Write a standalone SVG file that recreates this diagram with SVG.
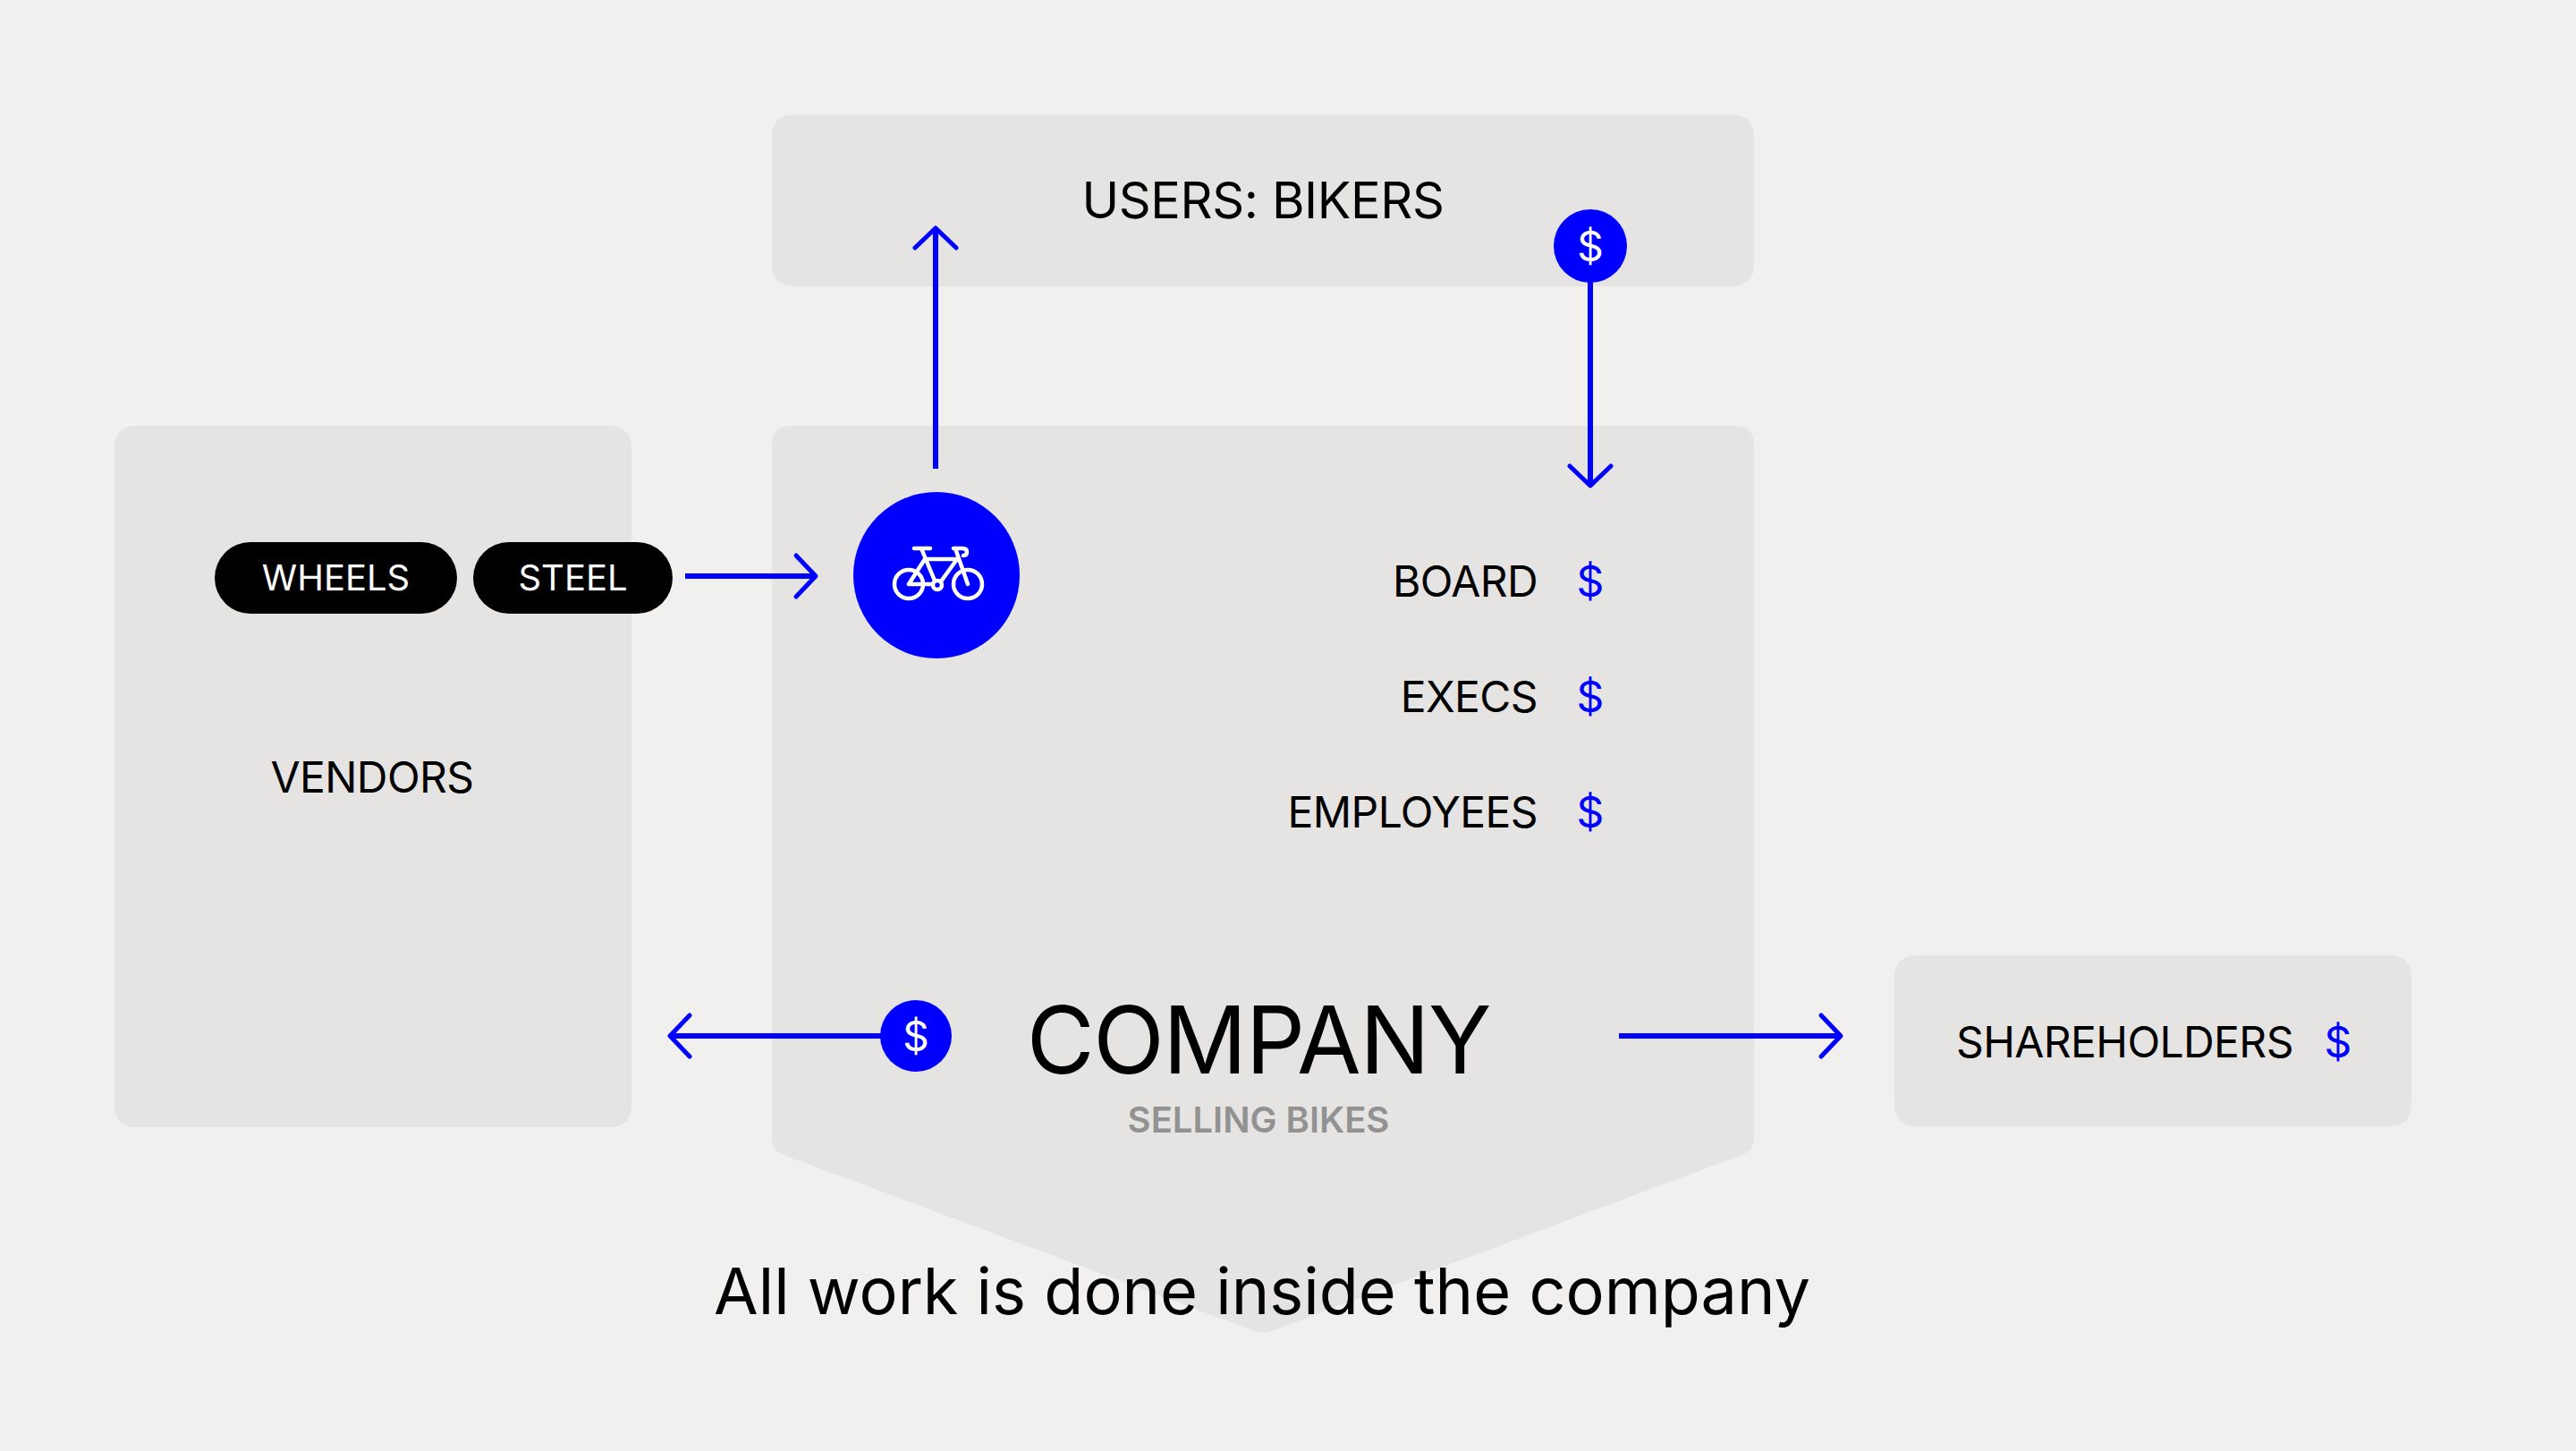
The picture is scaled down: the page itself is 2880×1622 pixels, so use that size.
<svg xmlns="http://www.w3.org/2000/svg" width="2880" height="1622" viewBox="0 0 2880 1622">
<defs>
<style>
.box{fill:#e5e4e2}
.t{font-family:Inter,"Noto Sans","Liberation Sans",sans-serif;fill:#000}
.lbl{font-size:48px;letter-spacing:-0.6px}
.usd{font-family:Inter,"Noto Sans","Liberation Sans",sans-serif;font-size:48px;fill:#0000ff;text-anchor:middle}
.usdw{font-family:Inter,"Noto Sans","Liberation Sans",sans-serif;font-size:46px;fill:#ffffff;text-anchor:middle}
.pill{fill:#000}
.pilltxt{font-family:Inter,"Noto Sans","Liberation Sans",sans-serif;font-size:40px;fill:#fff;text-anchor:middle}
.coin{fill:#0000ff}
.conn{fill:none;stroke:#0000ff;stroke-width:6;marker-end:url(#chev)}
.bike{fill:none;stroke:#fff;stroke-width:4.5;stroke-linecap:round;stroke-linejoin:round}
</style>
<marker id="chev" markerUnits="userSpaceOnUse" markerWidth="60" markerHeight="60" viewBox="-30 -30 60 60" refX="0" refY="0" orient="auto" overflow="visible">
<path d="M -22,-23 L 0,0 L -22,23" fill="none" stroke="#0000ff" stroke-width="5" stroke-linecap="round" stroke-linejoin="round"/>
</marker>
</defs>
<rect x="0" y="0" width="2880" height="1622" fill="#f1f0ee"/>

<g id="users">
<rect class="box" x="863" y="128" width="1098" height="192" rx="22"/>
<text class="t" x="1412" y="244" font-size="56" letter-spacing="-0.4" text-anchor="middle">USERS: BIKERS</text>
</g>

<g id="vendors">
<rect class="box" x="128" y="476" width="578" height="784" rx="22"/>
<text class="t lbl" x="416" y="886" text-anchor="middle">VENDORS</text>
</g>

<g id="company">
<path class="box" d="M 885,476 H 1939 Q 1961,476 1961,498 V 1272 Q 1961,1286 1948,1291 L 1424,1487 Q 1412,1492 1400,1487 L 876,1291 Q 863,1286 863,1272 V 498 Q 863,476 885,476 Z"/>
<text class="t" x="1407" y="1200" font-size="104" letter-spacing="-1.5" text-anchor="middle">COMPANY</text>
<text x="1407" y="1266" font-family="Inter,'Noto Sans','Liberation Sans',sans-serif" font-size="40" font-weight="600" fill="#929292" text-anchor="middle">SELLING BIKES</text>
</g>

<g id="shareholders">
<rect class="box" x="2118" y="1068" width="578" height="191" rx="22"/>
<text class="t lbl" x="2187" y="1182">SHAREHOLDERS</text>
<text class="usd" x="2614" y="1182">$</text>
</g>

<g id="wheels">
<rect class="pill" x="240" y="606" width="271" height="80" rx="40"/>
<text class="pilltxt" x="375.5" y="660">WHEELS</text>
</g>
<g id="steel">
<rect class="pill" x="529" y="606" width="223" height="80" rx="40"/>
<text class="pilltxt" x="640.5" y="660">STEEL</text>
</g>

<g id="board">
<text class="t lbl" x="1719" y="667" text-anchor="end">BOARD</text>
<text class="usd" x="1778" y="667">$</text>
</g>
<g id="execs">
<text class="t lbl" x="1719" y="796" text-anchor="end">EXECS</text>
<text class="usd" x="1778" y="796">$</text>
</g>
<g id="employees">
<text class="t lbl" x="1719" y="925" text-anchor="end">EMPLOYEES</text>
<text class="usd" x="1778" y="925">$</text>
</g>

<g id="connectors">
<path class="conn" d="M 1046,524 V 255"/>
<path class="conn" d="M 1778,300 V 543"/>
<path class="conn" d="M 766,644 H 912"/>
<path class="conn" d="M 1000,1158 H 749"/>
<path class="conn" d="M 1810,1158 H 2058"/>
</g>

<g id="bike-product">
<circle class="coin" cx="1047" cy="643" r="93"/>
<circle class="bike" cx="1016" cy="653" r="16"/>
<circle class="bike" cx="1082" cy="653" r="16"/>
<circle class="bike" cx="1048" cy="654" r="5"/>
<path class="bike" d="M 1022,613 H 1040 M 1030,613 L 1045,649 M 1016,653 L 1034,625 M 1016,653 H 1043 M 1034,625 H 1070 M 1070,625 L 1052,650 M 1068,613 L 1082,653 M 1066,613 H 1076 Q 1081,613 1081,617 Q 1081,621 1077,621"/>
</g>

<g id="coin-users">
<circle class="coin" cx="1778" cy="275" r="41"/>
<text class="usdw" x="1778" y="292">$</text>
</g>
<g id="coin-vendors">
<circle class="coin" cx="1024" cy="1158" r="40"/>
<text class="usdw" x="1024" y="1175">$</text>
</g>

<text class="t" x="1411" y="1469" font-size="72" text-anchor="middle">All work is done inside the company</text>
</svg>
